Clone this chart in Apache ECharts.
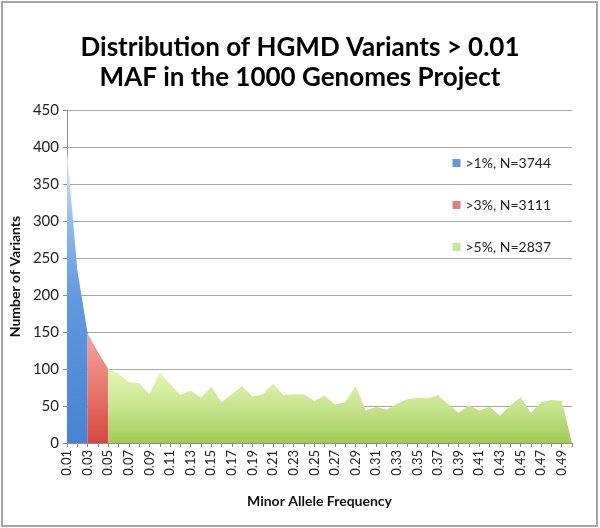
<!DOCTYPE html>
<html>
<head>
<meta charset="utf-8">
<script src="https://cdn.jsdelivr.net/npm/echarts@6/dist/echarts.min.js"></script>
<style>
html,body{margin:0;padding:0;background:#fff;}
#c{width:600px;height:528px;}
</style>
</head>
<body>
<div id="c"></div>
<script>
const categories = ['0.01','0.02','0.03','0.04','0.05','0.06','0.07','0.08','0.09','0.10',
  '0.11','0.12','0.13','0.14','0.15','0.16','0.17','0.18','0.19','0.20',
  '0.21','0.22','0.23','0.24','0.25','0.26','0.27','0.28','0.29','0.30',
  '0.31','0.32','0.33','0.34','0.35','0.36','0.37','0.38','0.39','0.40',
  '0.41','0.42','0.43','0.44','0.45','0.46','0.47','0.48','0.49','0.50'];
const seriesNames = ['>1%, N=3744', '>3%, N=3111', '>5%, N=2837'];
// >1% segment (0.01 - 0.03)
const blueValues = [395, 234, 148];
// >3% segment (0.03 - 0.05)
const redValues = [148, 123, 100];
// >5% segment (0.05 - 0.50)
const greenValues = [100, 94, 82, 81, 66, 95, 80, 65, 71, 61,
  76, 55, 66, 77, 63, 66, 80, 65, 66, 66,
  57, 64, 52, 55, 77, 44, 49, 45, 53, 59,
  61, 60, 65, 52, 41, 51, 44, 49, 37, 50,
  62, 41, 55, 58, 57, 0];
const yTicks = {min: 0, max: 450, step: 50};

function place(vals, start) {
  const arr = categories.map(() => null);
  vals.forEach((v, i) => { arr[start + i] = v; });
  return arr;
}
function grad(stops) {
  return new echarts.graphic.LinearGradient(0, 0, 0, 1,
    stops.map(s => ({offset: s[0], color: s[1]})));
}
const font = 'Lato, "Open Sans", sans-serif';
const legendColors = ['#5f9ae0', '#ea7d76', '#c5e597'];
const chart = echarts.init(document.getElementById('c'), null, {renderer: 'canvas'});
const mk = (name, data, stops, legendColor) => ({
  name, type: 'line', data, showSymbol: false, symbol: 'none',
  lineStyle: {width: 0}, connectNulls: false,
  itemStyle: {color: legendColor},
  areaStyle: {color: grad(stops), opacity: 1},
  silent: true
});
chart.setOption({
  animation: false,
  backgroundColor: '#fff',
  graphic: [{
    type: 'rect', shape: {x: 2, y: 2, width: 595, height: 524},
    style: {fill: null, stroke: '#a6a6a6', lineWidth: 2}, z: 100
  }],
  title: {
    text: 'Distribution of HGMD Variants > 0.01\nMAF in the 1000 Genomes Project',
    left: 'center', top: 28,
    textStyle: {fontFamily: font, fontSize: 26, fontWeight: 'bold', color: '#000', lineHeight: 30}
  },
  legend: {
    data: seriesNames.map((n, i) => ({name: n, icon: 'rect',
      itemStyle: {color: legendColors[i], borderWidth: 0}})),
    orient: 'vertical', right: 44, top: 151, itemGap: 28,
    itemWidth: 8, itemHeight: 8,
    textStyle: {fontFamily: font, fontSize: 14, color: '#222'}
  },
  grid: {left: 66, right: 28, top: 110, bottom: 85},
  xAxis: {
    type: 'category', data: categories, boundaryGap: false,
    name: 'Minor Allele Frequency', nameLocation: 'middle', nameGap: 51,
    nameTextStyle: {fontFamily: font, fontSize: 14, fontWeight: 'bold', color: '#111'},
    axisLine: {lineStyle: {color: '#8c8c8c'}},
    axisTick: {interval: 0, length: 4, lineStyle: {color: '#8c8c8c'}},
    axisLabel: {interval: 1, rotate: 90, fontFamily: font, fontSize: 13, color: '#222', margin: 7}
  },
  yAxis: {
    type: 'value', min: yTicks.min, max: yTicks.max, interval: yTicks.step,
    name: 'Number of Variants', nameLocation: 'middle', nameGap: 44, nameRotate: 90,
    nameTextStyle: {fontFamily: font, fontSize: 14, fontWeight: 'bold', color: '#111'},
    axisLine: {show: true, lineStyle: {color: '#8c8c8c'}},
    axisTick: {show: true, length: 4, lineStyle: {color: '#8c8c8c'}},
    axisLabel: {fontFamily: font, fontSize: 15, color: '#222', margin: 8},
    splitLine: {lineStyle: {color: '#a6a6a6'}}
  },
  series: [
    mk(seriesNames[0], place(blueValues, 0),
       [[0, '#e4eefb'], [0.25, '#8fb9ee'], [0.5, '#6199e0'], [1, '#4683d3']], legendColors[0]),
    mk(seriesNames[1], place(redValues, 2),
       [[0, '#f5a49e'], [0.5, '#e77870'], [1, '#d6463e']], legendColors[1]),
    mk(seriesNames[2], place(greenValues, 4),
       [[0, '#e6f6b6'], [0.5, '#c8e590'], [1, '#a3c957']], legendColors[2])
  ]
});
</script>
</body>
</html>
